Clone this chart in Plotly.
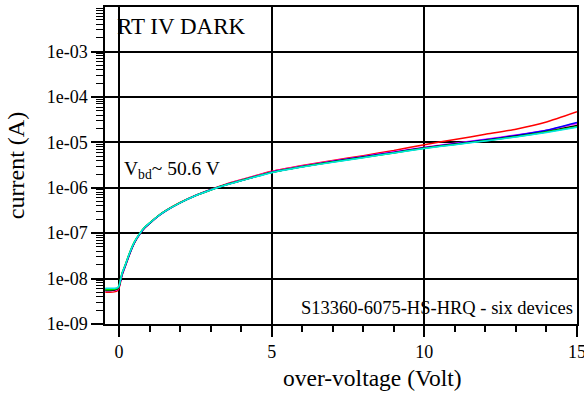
import plotly.graph_objects as go

voltage = [-0.45, -0.3, -0.15, -0.05, 0.0, 0.05, 0.1, 0.2, 0.35, 0.5, 0.67, 0.85, 1.0, 1.25, 1.5, 2.0, 2.5,
           3.0, 3.5, 4.0, 5.0, 6.0, 7.0, 8.0, 9.0, 10.0, 11.0, 12.0, 13.0, 14.0, 15.0]

dev_red = [5.0e-9, 5.0e-9, 5.1e-9, 5.4e-9, 6.2e-9, 8.4e-9, 1.18e-8, 1.82e-8, 3.5e-8, 6.0e-8, 9.3e-8, 1.33e-7, 1.63e-7,
           2.3e-7, 3.05e-7, 4.75e-7, 6.8e-7, 9.2e-7, 1.2e-6, 1.5e-6, 2.3e-6, 3.1e-6, 4.0e-6, 5.1e-6, 6.6e-6, 8.9e-6,
           1.15e-5, 1.5e-5, 1.95e-5, 2.8e-5, 4.7e-5]
dev_magenta = [5.4e-9, 5.4e-9, 5.5e-9, 5.8e-9, 6.5e-9, 8.8e-9, 1.22e-8, 1.86e-8, 3.55e-8, 6.1e-8, 9.4e-8, 1.34e-7, 1.64e-7,
               2.3e-7, 3.05e-7, 4.7e-7, 6.75e-7, 9.1e-7, 1.18e-6, 1.48e-6, 2.25e-6, 3.0e-6, 3.9e-6, 4.9e-6, 6.2e-6, 7.8e-6,
               9.6e-6, 1.17e-5, 1.45e-5, 1.85e-5, 2.6e-5]
dev_blue = [5.9e-9, 5.9e-9, 5.9e-9, 6.1e-9, 6.7e-9, 9.0e-9, 1.24e-8, 1.88e-8, 3.55e-8, 6.1e-8, 9.4e-8, 1.33e-7, 1.63e-7,
            2.28e-7, 3.0e-7, 4.65e-7, 6.7e-7, 9.0e-7, 1.17e-6, 1.45e-6, 2.2e-6, 2.95e-6, 3.8e-6, 4.8e-6, 6.0e-6, 7.6e-6,
            9.3e-6, 1.14e-5, 1.42e-5, 1.85e-5, 2.75e-5]
dev_black = [5.5e-9, 5.5e-9, 5.6e-9, 5.9e-9, 6.6e-9, 9.2e-9, 1.28e-8, 1.93e-8, 3.65e-8, 6.2e-8, 9.5e-8, 1.35e-7, 1.65e-7,
             2.3e-7, 3.02e-7, 4.65e-7, 6.65e-7, 8.95e-7, 1.16e-6, 1.44e-6, 2.18e-6, 2.9e-6, 3.75e-6, 4.7e-6, 5.9e-6, 7.5e-6,
             9.1e-6, 1.1e-5, 1.36e-5, 1.72e-5, 2.35e-5]
dev_green = [5.7e-9, 5.7e-9, 5.8e-9, 6.1e-9, 7.0e-9, 9.8e-9, 1.35e-8, 2.0e-8, 3.8e-8, 6.4e-8, 9.8e-8, 1.38e-7, 1.68e-7,
             2.33e-7, 3.05e-7, 4.7e-7, 6.7e-7, 8.95e-7, 1.16e-6, 1.44e-6, 2.17e-6, 2.9e-6, 3.7e-6, 4.65e-6, 5.85e-6, 7.4e-6,
             9.0e-6, 1.08e-5, 1.33e-5, 1.68e-5, 2.2e-5]
dev_cyan = [6.1e-9, 6.1e-9, 6.1e-9, 6.3e-9, 6.9e-9, 9.5e-9, 1.3e-8, 1.95e-8, 3.7e-8, 6.3e-8, 9.6e-8, 1.36e-7, 1.66e-7,
            2.3e-7, 3.02e-7, 4.65e-7, 6.65e-7, 8.9e-7, 1.15e-6, 1.42e-6, 2.15e-6, 2.85e-6, 3.65e-6, 4.6e-6, 5.8e-6, 7.3e-6,
            8.9e-6, 1.07e-5, 1.31e-5, 1.65e-5, 2.15e-5]

series = [("red", dev_red), ("#ff00ff", dev_magenta), ("#0000ff", dev_blue),
          ("#000000", dev_black), ("#00e000", dev_green), ("#00e5e5", dev_cyan)]

y_tickvals = [1e-9, 1e-8, 1e-7, 1e-6, 1e-5, 1e-4, 1e-3]
y_ticktext = ["1e-09", "1e-08", "1e-07", "1e-06", "1e-05", "1e-04", "1e-03"]
x_tickvals = [0, 5, 10, 15]
x_minorvals = [1, 2, 3, 4, 6, 7, 8, 9, 11, 12, 13, 14]
y_minorvals = [m * 10.0 ** e for e in range(-9, -2) for m in range(2, 10)]

fig = go.Figure()
for color, vals in series:
    fig.add_trace(go.Scatter(x=voltage, y=vals, mode="lines",
                             line=dict(color=color, width=1.5, shape="spline", smoothing=0.5),
                             showlegend=False, hoverinfo="skip"))

font = "Liberation Serif"

fig.update_layout(
    width=584, height=393,
    margin=dict(l=105, r=7, t=7, b=69, autoexpand=False),
    paper_bgcolor="white", plot_bgcolor="white",
    font=dict(family=font, color="black", size=18),
    xaxis=dict(range=[-0.46, 15], tickmode="array", tickvals=x_tickvals, automargin=False,
               ticklabeloverflow="allow",
               ticks="outside", ticklen=11, tickwidth=1.5, tickcolor="black",
               showgrid=True, gridcolor="black", gridwidth=1.5, zeroline=False,
               showline=True, linecolor="black", linewidth=1.5, mirror=True,
               tickfont=dict(size=18, family=font),
               minor=dict(tickmode="array", tickvals=x_minorvals, ticks="outside",
                          ticklen=6, tickwidth=1.5, tickcolor="black", showgrid=False)),
    yaxis=dict(type="log", range=[-9, -2.02], tickmode="array", tickvals=y_tickvals, ticktext=y_ticktext,
               automargin=False,
               ticks="outside", ticklen=12, tickwidth=1.5, tickcolor="black",
               showgrid=True, gridcolor="black", gridwidth=1.5, zeroline=False,
               showline=True, linecolor="black", linewidth=1.5, mirror=True,
               tickfont=dict(size=18, family=font),
               minor=dict(tickmode="array", tickvals=y_minorvals, ticks="outside",
                          ticklen=7, tickwidth=1, tickcolor="black", showgrid=False),
               title=dict(text="current (A)", font=dict(size=24, family=font))),
    annotations=[
        dict(text="over-voltage (Volt)", xref="paper", yref="paper", x=0.566, y=-0.17,
             xanchor="center", yanchor="middle", showarrow=False, font=dict(size=23.5, family=font)),
        dict(text="RT IV DARK", xref="paper", yref="paper", x=0.022, y=0.985,
             xanchor="left", yanchor="top", showarrow=False, font=dict(size=23, family=font)),
        dict(text="V<sub>bd</sub>~ 50.6 V", xref="paper", yref="paper", x=0.036, y=0.485,
             xanchor="left", yanchor="middle", showarrow=False, font=dict(size=19.5, family=font)),
        dict(text="S13360-6075-HS-HRQ - six devices", xref="paper", yref="paper", x=0.995, y=0.052,
             xanchor="right", yanchor="middle", showarrow=False, font=dict(size=18.5, family=font)),
    ],
)

fig.write_html("out.html", config={"displayModeBar": False},
               post_script="document.body.style.margin='0px';")
